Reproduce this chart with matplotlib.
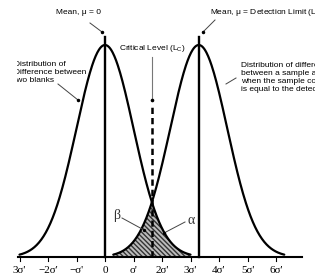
import numpy as np
import matplotlib
matplotlib.use("Agg")
import matplotlib.pyplot as plt
from matplotlib.transforms import Bbox, TransformedBbox, IdentityTransform

# Schematic: critical level and detection limit (units of sigma')
mean_blank = 0.0
mean_ld = 3.29          # detection limit, L_D
crit_level = 1.645      # critical level, L_C
half_width = 3.0        # curves drawn out to +/- 3 sigma
tick_pos = [-3, -2, -1, 0, 1, 2, 3, 4, 5, 6]
tick_labels = ["3σ'", "−2σ'", "−σ'", "0", "σ'", "2σ'", "3σ'", "4σ'", "5σ'", "6σ'"]

SANS = "Liberation Sans"
SERIF = "Liberation Serif"
plt.rcParams["mathtext.fontset"] = "custom"
plt.rcParams["mathtext.rm"] = SANS

fig = plt.figure(figsize=(3.15, 2.8), dpi=100)
ax = fig.add_axes([0, 0, 1, 1])
ax.set_xlim(-105 / 28.5, 210 / 28.5)
ax.set_ylim(-23 / 212, 257 / 212)
ax.axis("off")


def px(x, y):
    # pixel position (from top-left) -> data coords
    return (x - 105) / 28.5, (257 - y) / 212


def gauss(x, mu):
    return np.exp(-0.5 * (x - mu) ** 2)


# the two distributions
for mu in (mean_blank, mean_ld):
    xs = np.linspace(mu - half_width, mu + half_width, 300)
    ax.plot(xs, gauss(xs, mu), color="black", lw=1.6, solid_capstyle="round")

# overlap area (alpha + beta)
xo = np.linspace(mean_ld - half_width, mean_blank + half_width, 300)
yo = np.minimum(gauss(xo, mean_blank), gauss(xo, mean_ld))
ax.fill_between(xo, 0, yo, facecolor="#bcbcbc", edgecolor="#333333",
                hatch="\\\\\\\\\\\\\\", linewidth=0)

# mean lines
top = 1.038
for mu in (mean_blank, mean_ld):
    ax.plot([mu, mu], [0, top], color="black", lw=1.7)

# critical level
ax.plot([crit_level, crit_level], [0, 0.72], color="black", lw=1.8,
        dashes=(2.5, 1.6))
ax.plot([crit_level, crit_level], [0.74, 0.945], color="#777777", lw=0.8)
ax.plot(crit_level, 0.74, "o", color="black", ms=1.6)

# baseline axis with ticks
ax.plot([-3.05, 6.9], [0, 0], color="black", lw=1.5)
for t, lab in zip(tick_pos, tick_labels):
    ax.plot([t, t], [0, -0.018], color="black", lw=0.8)
    ax.text(t, -0.062, lab, ha="center", va="center", fontsize=8,
            family=SERIF)

fs = 6.0
leader = dict(color="#444444", lw=0.7)


def dot(x, y, ms=1.5):
    ax.plot(*px(x, y), "o", color="black", ms=ms)


def line(x0, y0, x1, y1):
    (a, b), (c, d) = px(x0, y0), px(x1, y1)
    ax.plot([a, c], [b, d], **leader)


# top labels
ax.text(*px(78, 13), "Mean, μ = 0", fontsize=fs, family=SANS,
        ha="center", va="center")
line(90, 23, 102, 32)
dot(102, 32)

ax.text(*px(210, 13), "Mean, μ = Detection Limit (L$_\\mathregular{D}$)",
        fontsize=fs, family=SANS, ha="left", va="center")
line(215, 20, 203, 32)
dot(203, 32)

ax.text(crit_level, px(0, 49)[1], "Critical Level (L$_\\mathregular{C}$)",
        fontsize=fs, family=SANS, ha="center", va="center")

# side labels
left_txt = ax.text(*px(14, 73),
                   "Distribution of\nDifference between\ntwo blanks",
                   fontsize=fs, family=SANS, ha="left", va="center",
                   linespacing=1.2)
left_txt.set_clip_box(TransformedBbox(Bbox([[17, 0], [315, 280]]),
                                      IdentityTransform()))
left_txt.set_clip_on(True)
line(58, 84, 78, 100)
dot(78, 100)

ax.text(*px(241, 78),
        "Distribution of difference\nbetween a sample and a blank\n"
        "when the sample concentration\nis equal to the detection limit",
        fontsize=fs, family=SANS, ha="left", va="center", linespacing=1.2)
line(236, 78, 226, 84)

# alpha / beta
ax.text(*px(117, 215), "β", fontsize=10, family=SERIF, ha="center",
        va="center", color="#333333")
line(122, 218, 144, 230)
dot(144, 230, 1.4)

ax.text(*px(191, 220), "α", fontsize=10, family=SERIF, ha="center",
        va="center", color="#333333")
line(185, 222, 164, 233)
dot(164, 233, 1.4)

fig.savefig("out.png", dpi=100)
